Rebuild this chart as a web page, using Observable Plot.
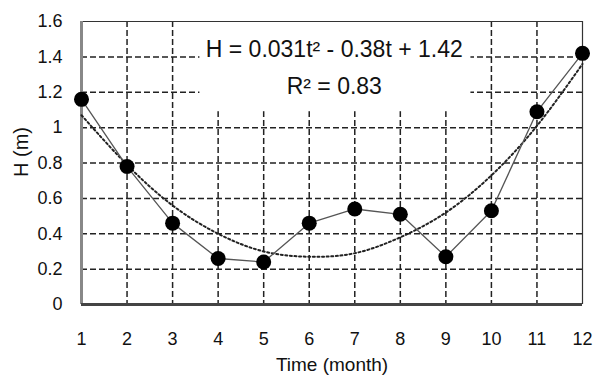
<!DOCTYPE html>
<html>
<head>
<meta charset="utf-8">
<script src="https://cdn.jsdelivr.net/npm/d3@7"></script>
<script src="https://cdn.jsdelivr.net/npm/@observablehq/plot@0.6"></script>
<style>
  html, body { margin: 0; padding: 0; background: #fff; }
</style>
</head>
<body>
<div id="chart"></div>
<script>
// ---- data ----
const months = [1, 2, 3, 4, 5, 6, 7, 8, 9, 10, 11, 12];
const heights = [1.16, 0.78, 0.46, 0.26, 0.24, 0.46, 0.54, 0.51, 0.27, 0.53, 1.09, 1.42];
const trendValues = [1.07, 0.79, 0.56, 0.40, 0.30, 0.27, 0.29, 0.38, 0.52, 0.73, 1.01, 1.36];
const xTicks = [1, 2, 3, 4, 5, 6, 7, 8, 9, 10, 11, 12];
const yTicks = [0, 0.2, 0.4, 0.6, 0.8, 1, 1.2, 1.4, 1.6];
const yTickLabels = ["0", "0.2", "0.4", "0.6", "0.8", "1", "1.2", "1.4", "1.6"];
const xGrid = [2, 3, 4, 5, 6, 7, 8, 9, 10, 11];
const yGrid = [0.2, 0.4, 0.6, 0.8, 1, 1.2, 1.4];
const xTitle = "Time (month)";
const yTitle = "H (m)";
const equationLines = ["H = 0.031t\u00B2 - 0.38t + 1.42", "R\u00B2 = 0.83"];
const equationY = [1.44, 1.23];
const labelBox = [{x1: 3.6, x2: 9.55, y1: 1.09, y2: 1.6}];

const observed = months.map((m, i) => ({t: m, h: heights[i]}));
const trend = months.map((m, i) => ({t: m, h: trendValues[i]}));
const equation = equationLines.map((s, i) => ({text: s, y: equationY[i]}));

const font = "'Liberation Sans', Arial, sans-serif";
const dash = "6,3";

const chart = Plot.plot({
  width: 596,
  height: 385,
  marginLeft: 81,
  marginRight: 14,
  marginTop: 21,
  marginBottom: 81,
  x: {domain: [1, 12]},
  y: {domain: [0, 1.6]},
  style: {fontFamily: font, fontSize: "18px", color: "#111", background: "#fff"},
  marks: [
    Plot.ruleX(xGrid, {stroke: "#222", strokeWidth: 1.5, strokeDasharray: dash}),
    Plot.ruleY(yGrid, {stroke: "#222", strokeWidth: 1.5, strokeDasharray: dash}),
    Plot.rect(labelBox, {x1: "x1", x2: "x2", y1: "y1", y2: "y2", fill: "#fff"}),
    Plot.text(equation, {x: 6.55, y: "y", text: "text", fontSize: 23, fill: "#111"}),
    Plot.ruleY([1.6], {stroke: "#333", strokeWidth: 1.2}),
    Plot.ruleX([12], {stroke: "#333", strokeWidth: 1.2}),
    Plot.ruleX([1], {stroke: "#888", strokeWidth: 3}),
    Plot.ruleY([0], {stroke: "#444", strokeWidth: 3}),
    Plot.line(trend, {x: "t", y: "h", curve: "natural", stroke: "#222", strokeWidth: 2, strokeDasharray: "2,2.6"}),
    Plot.line(observed, {x: "t", y: "h", stroke: "#555", strokeWidth: 1.3}),
    Plot.dot(observed, {x: "t", y: "h", r: 7.5, fill: "#000", stroke: "none"}),
    Plot.axisX({ticks: xTicks, tickSize: 0, tickPadding: 28, fontSize: 18, label: null}),
    Plot.axisY({ticks: yTicks, tickFormat: (d, i) => yTickLabels[i], tickSize: 0, tickPadding: 19, fontSize: 18, label: null}),
    Plot.text([xTitle], {frameAnchor: "bottom", dy: 66, fontSize: 19, fill: "#111"}),
    Plot.text([yTitle], {frameAnchor: "left", rotate: -90, dx: -60, dy: 14, fontSize: 20, fill: "#111"})
  ]
});
document.getElementById("chart").appendChild(chart);
</script>
</body>
</html>
